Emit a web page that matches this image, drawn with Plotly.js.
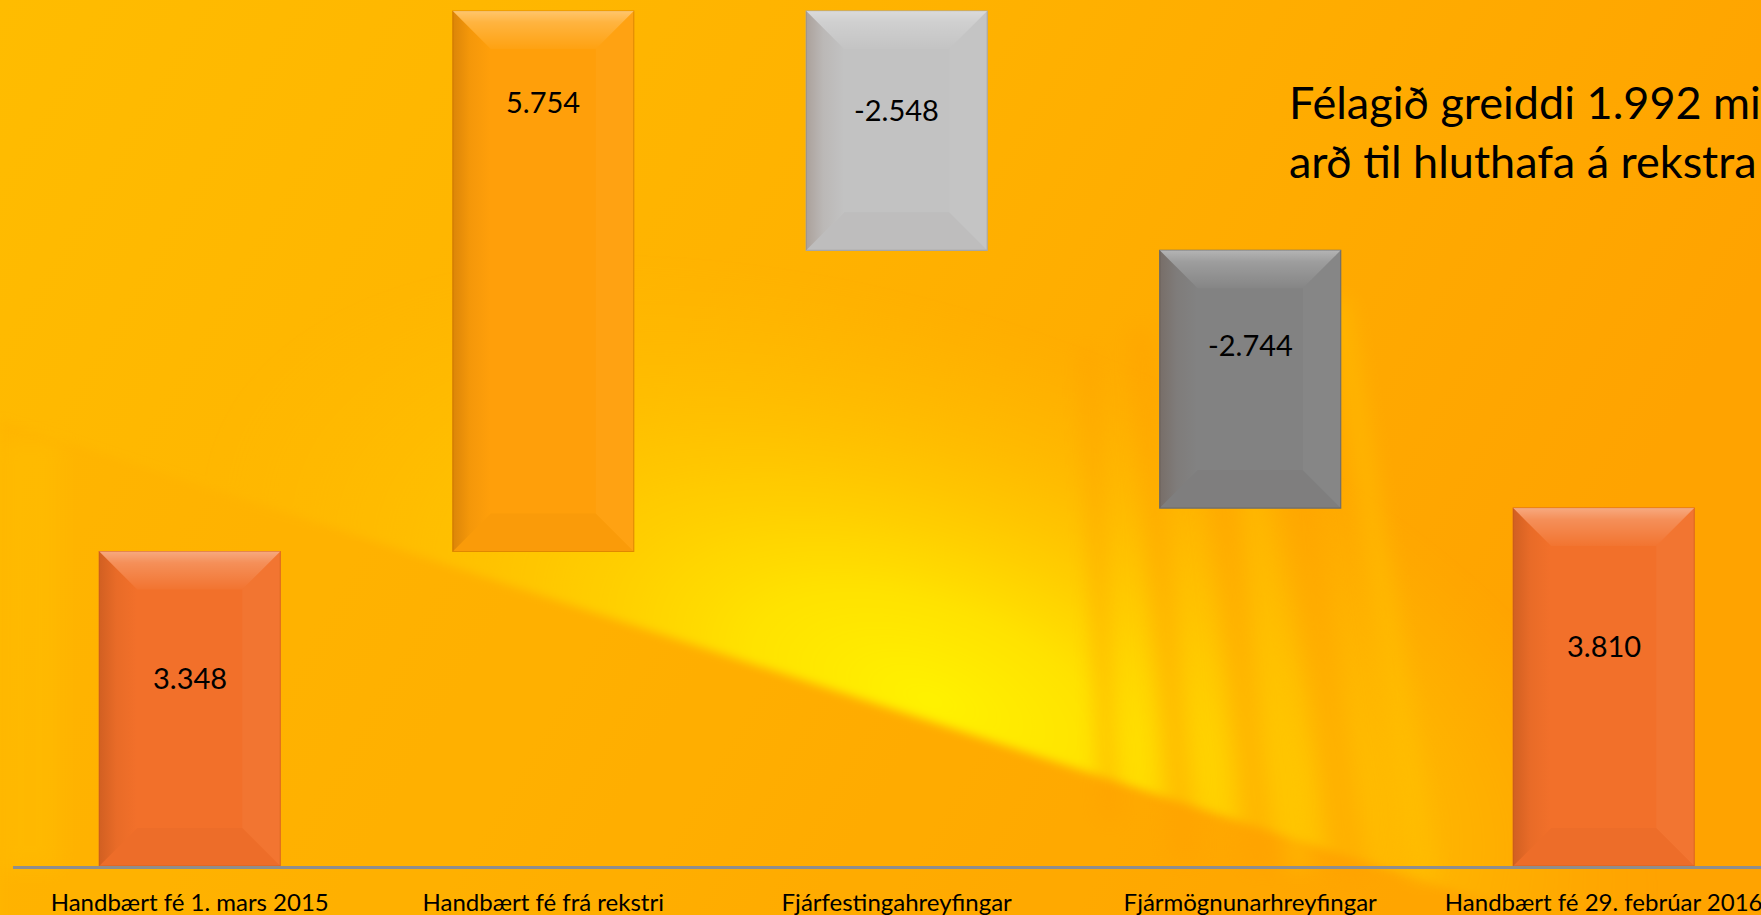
<!DOCTYPE html>
<html>
<head>
<meta charset="utf-8">
<script src="https://cdn.plot.ly/plotly-3.0.1.min.js"></script>
<style>
  html, body { margin: 0; padding: 0; width: 1761px; height: 915px; overflow: hidden; }
  #bg { position: absolute; left: 0; top: 0; width: 1761px; height: 915px; }
  #chart { position: absolute; left: 0; top: 0; width: 1761px; height: 915px; }
</style>
</head>
<body>
<svg id="bg" width="1761" height="915" viewBox="0 0 1761 915" xmlns="http://www.w3.org/2000/svg">
  <defs>
    <linearGradient id="base" x1="0" y1="0" x2="1" y2="0.3">
      <stop offset="0" stop-color="#FFBC00"/>
      <stop offset="0.5" stop-color="#FFB200"/>
      <stop offset="1" stop-color="#FFA300"/>
    </linearGradient>
    <radialGradient id="glow" cx="0" cy="0" r="1" gradientUnits="userSpaceOnUse"
      gradientTransform="translate(930 700) rotate(20) scale(760 380)">
      <stop offset="0" stop-color="#FFF200" stop-opacity="1"/>
      <stop offset="0.25" stop-color="#FFE800" stop-opacity="0.9"/>
      <stop offset="0.6" stop-color="#FFD000" stop-opacity="0.55"/>
      <stop offset="1" stop-color="#FFC000" stop-opacity="0"/>
    </radialGradient>
    <clipPath id="above">
      <polygon points="0,0 1761,0 1761,990 0,420"/>
    </clipPath>
    <filter id="blur4" x="-10%" y="-10%" width="120%" height="120%">
      <feGaussianBlur stdDeviation="5"/>
    </filter>
    <filter id="blur12" x="-50%" y="-10%" width="200%" height="120%">
      <feGaussianBlur stdDeviation="10"/>
    </filter>
  </defs>
  <rect x="0" y="0" width="1761" height="915" fill="url(#base)"/>
  <g filter="url(#blur4)">
    <g clip-path="url(#above)">
      <rect x="0" y="0" width="1761" height="915" fill="url(#glow)"/>
    </g>
    <polygon points="0,420 1761,990 0,990" fill="#FFAA00" opacity="0.3"/>
  </g>
  <g filter="url(#blur12)" opacity="0.45">
    <polygon points="1130,330 1150,330 1200,860 1170,860" fill="#FFA000"/>
    <polygon points="1190,320 1215,320 1280,870 1245,870" fill="#FFA000"/>
    <polygon points="1260,300 1290,300 1370,880 1330,880" fill="#FFA000"/>
    <polygon points="1080,350 1095,350 1120,820 1100,820" fill="#FFA000"/>
    <polygon points="1330,300 1350,300 1440,880 1410,880" fill="#FFC400"/>
    <polygon points="1225,320 1240,320 1310,870 1290,870" fill="#FFC400"/>
  </g>
  <rect x="0" y="440" width="60" height="430" fill="#FFC400" opacity="0.35" filter="url(#blur12)"/>
</svg>
<div id="chart"></div>
<script>
// ---- data ----
const categories = ["Handbært fé 1. mars 2015", "Handbært fé frá rekstri", "Fjárfestingahreyfingar", "Fjármögnunarhreyfingar", "Handbært fé 29. febrúar 2016"];
const values = [3348, 5754, -2548, -2744, 3810];
const measures = ["absolute", "relative", "relative", "relative", "total"];
const noteLines = ["Félagið greiddi 1.992 mi", "arð til hluthafa á rekstra"];

// ---- style ----
const barColors = ["#F2702A", "#FF9F0A", "#C2C2C2", "#828282", "#F2702A"];
const lineColors = ["#DE6620", "#E38A00", "#A8A8A8", "#6C6C6C", "#DE6620"];
const labelFracFromTop = [0.40, 0.167, 0.41, 0.367, 0.385];
const W = 1761, H = 915;
const margin = {l: 13, r: 0, t: 0, b: 49};
const xRange = [-0.5, 4.445];
const yRange = [0, 9219];
const barWidth = 0.512;
const bevelPx = 38;
const font = "Lato, 'Open Sans', sans-serif";

const pxPerX = (W - margin.l - margin.r) / (xRange[1] - xRange[0]);
const pxPerY = (H - margin.t - margin.b) / (yRange[1] - yRange[0]);
const dx = bevelPx / pxPerX, dy = bevelPx / pxPerY;

// waterfall geometry from values
const idx = categories.map((_, i) => i);
const bases = [], lens = [];
let cum = 0;
values.forEach((v, i) => {
  if (measures[i] === "absolute") { bases.push(0); lens.push(v); cum = v; }
  else if (measures[i] === "relative") { bases.push(cum); lens.push(v); cum += v; }
  else { bases.push(0); lens.push(cum); }
});

function fmt(v) {
  const s = Math.abs(v).toString().replace(/\B(?=(\d{3})+(?!\d))/g, ".");
  return (v < 0 ? "-" : "") + s;
}

const traces = [{
  type: "bar", x: idx, y: lens, base: bases, width: barWidth,
  marker: {color: barColors, line: {color: lineColors, width: 1.2}},
  hoverinfo: "skip", showlegend: false
}];

const annotations = [];
idx.forEach(i => {
  const x0 = i - barWidth / 2, x1 = i + barWidth / 2;
  const yb = Math.min(bases[i], bases[i] + lens[i]);
  const yt = Math.max(bases[i], bases[i] + lens[i]);
  const common = {type: "scatter", mode: "lines", fill: "toself", line: {width: 0}, hoverinfo: "skip", showlegend: false};
  // top bevel (light)
  traces.push(Object.assign({}, common, {
    x: [x0, x1, x1 - dx, x0 + dx, x0], y: [yt, yt, yt - dy, yt - dy, yt],
    fillgradient: {type: "vertical", start: yt, stop: yt - dy,
      colorscale: [[0, "rgba(255,255,255,0.40)"], [0.3, "rgba(255,255,255,0.22)"], [1, "rgba(255,255,255,0.03)"]]}
  }));
  // left bevel (dark)
  traces.push(Object.assign({}, common, {
    x: [x0, x0 + dx, x0 + dx, x0, x0], y: [yt, yt - dy, yb + dy, yb, yt],
    fillgradient: {type: "horizontal", start: x0, stop: x0 + dx,
      colorscale: [[0, "rgba(80,30,0,0.20)"], [0.45, "rgba(80,30,0,0.06)"], [1, "rgba(80,30,0,0.0)"]]}
  }));
  // right bevel (slightly light)
  traces.push(Object.assign({}, common, {
    x: [x1, x1 - dx, x1 - dx, x1, x1], y: [yt, yt - dy, yb + dy, yb, yt],
    fillcolor: "rgba(255,255,255,0.035)"
  }));
  // bottom bevel (slightly dark)
  traces.push(Object.assign({}, common, {
    x: [x0, x1, x1 - dx, x0 + dx, x0], y: [yb, yb, yb + dy, yb + dy, yb],
    fillcolor: "rgba(60,20,0,0.025)"
  }));
  annotations.push({
    xref: "x", yref: "y", x: i, y: yt - labelFracFromTop[i] * (yt - yb),
    text: fmt(values[i]), showarrow: false, yanchor: "middle", xanchor: "center",
    font: {family: font, size: 29, color: "#000000"}
  });
});

annotations.push({
  xref: "paper", yref: "paper", x: (1287 - margin.l) / (W - margin.l - margin.r), y: 1 - 73 / (H - margin.t - margin.b),
  xanchor: "left", yanchor: "top", align: "left", showarrow: false,
  text: noteLines.join("<br>"),
  font: {family: font, size: 45, color: "#000000"}
});

const layout = {
  width: W, height: H, margin: margin,
  paper_bgcolor: "rgba(0,0,0,0)", plot_bgcolor: "rgba(0,0,0,0)",
  showlegend: false,
  xaxis: {
    range: xRange, tickmode: "array", tickvals: idx, ticktext: categories,
    showline: true, linecolor: "#8E8E8E", linewidth: 2.5, showgrid: false, zeroline: false,
    ticks: "", ticklabelstandoff: 14, ticklabeloverflow: "allow", fixedrange: true,
    tickfont: {family: font, size: 24, color: "#000000"}
  },
  yaxis: {range: yRange, visible: false, showgrid: false, zeroline: false, fixedrange: true},
  annotations: annotations
};

Plotly.newPlot("chart", traces, layout, {displayModeBar: false, staticPlot: true});
</script>
</body>
</html>
